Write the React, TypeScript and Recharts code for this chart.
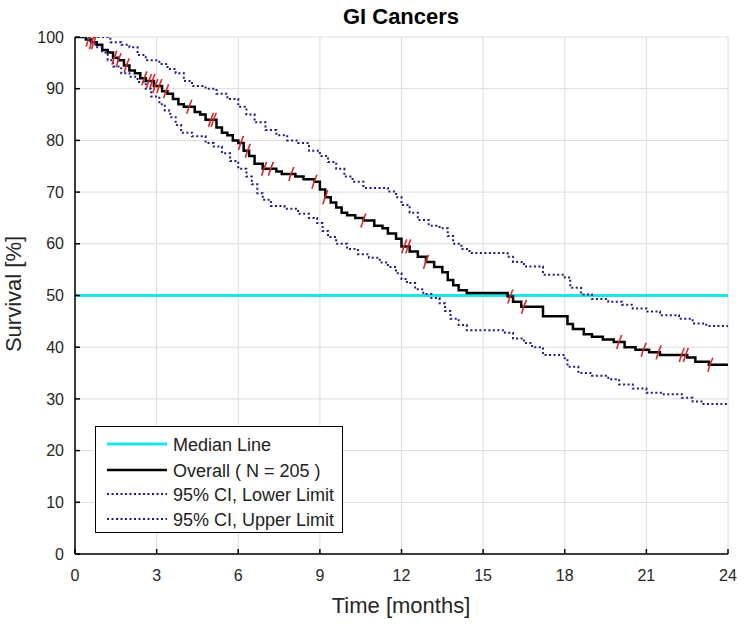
import React from 'react';
import {
  ComposedChart, Line, Scatter, XAxis, YAxis, CartesianGrid, Legend, Label,
} from 'recharts';

// ---------- data ----------
const xTicks = [0, 3, 6, 9, 12, 15, 18, 21, 24];
const yTicks = [0, 10, 20, 30, 40, 50, 60, 70, 80, 90, 100];

const seriesNames = ['Median Line', 'Overall ( N = 205 )', '95% CI, Lower Limit', '95% CI, Upper Limit'];

const medianTime = [0, 24];
const medianSurv = [50, 50];

const overallTime = [0, 0.4, 0.6, 0.8, 1.0, 1.2, 1.4, 1.6, 1.8, 2.0, 2.2, 2.4, 2.6, 2.9, 3.2, 3.4, 3.6, 3.8, 4.0, 4.4, 4.6, 4.8, 5.2, 5.4, 5.6, 5.8, 6.0, 6.2, 6.4, 6.6, 6.9, 7.4, 7.6, 8.1, 8.4, 8.8, 9.0, 9.2, 9.4, 9.6, 9.8, 10.0, 10.3, 10.6, 11.0, 11.3, 11.5, 11.8, 12.0, 12.3, 12.6, 12.9, 13.2, 13.5, 13.7, 13.9, 14.1, 14.4, 15.9, 16.1, 16.4, 17.2, 18.1, 18.3, 18.7, 19.0, 19.4, 19.8, 20.2, 20.6, 21.1, 21.5, 22.5, 22.8, 23.3, 24];
const overallSurv = [100, 99.5, 99, 98.5, 97.5, 97, 96, 95.5, 94.5, 93.5, 93, 92, 91.5, 90.5, 89.5, 89, 88, 87, 86.5, 85.5, 85, 84, 82.5, 81.5, 81, 80, 79.5, 78, 77, 75.5, 74.5, 74, 73.5, 73, 72.5, 72, 70.5, 69, 68, 67, 66, 65.5, 65, 64.5, 63.5, 63, 62, 61, 59.5, 58.5, 57.5, 56.5, 55.5, 54.5, 53, 52, 51, 50.5, 49.8, 48.8, 47.8, 46, 44.5, 43.5, 42.5, 42, 41.5, 41, 40, 39.5, 39, 38.5, 38, 37.2, 36.6, 36.6];

const lowerTime = [0, 0.45, 0.55, 0.75, 1.0, 1.2, 1.4, 1.7, 2.0, 2.3, 2.6, 2.8, 3.1, 3.3, 3.5, 3.7, 3.9, 4.3, 4.8, 5.1, 5.4, 5.7, 6.0, 6.3, 6.5, 6.7, 6.9, 7.2, 7.7, 8.2, 8.6, 8.9, 9.1, 9.3, 9.6, 10.0, 10.4, 10.8, 11.2, 11.5, 11.8, 12.0, 12.2, 12.5, 12.8, 13.1, 13.4, 13.6, 13.8, 14.1, 14.4, 15.8, 16.1, 16.5, 16.8, 17.2, 18.0, 18.1, 18.5, 19.0, 19.6, 20.0, 20.5, 21.0, 21.6, 22.3, 22.7, 23.1, 24];
const lowerSurv = [100, 100, 99, 98, 97, 95.5, 94.3, 93, 92.3, 91.3, 90, 88.5, 87, 85.8, 84.5, 83, 81.5, 80.8, 79.5, 78.8, 77.5, 76, 74.5, 73, 71.5, 69.8, 68.5, 67.3, 66.8, 65.8, 65, 64, 62.5, 61.3, 60, 59, 58, 57.3, 56.4, 55.5, 54.3, 53.2, 52.4, 51.2, 50.3, 49.5, 48.5, 47, 45.5, 44.3, 43.3, 42.8, 41.7, 40.8, 40, 38.5, 37.5, 36.2, 35, 34.5, 33.8, 32.8, 32, 31.2, 30.9, 30.2, 29.5, 29, 29];

const upperTime = [0, 1.0, 1.3, 1.7, 2.0, 2.3, 2.6, 3.1, 3.4, 3.7, 4.0, 4.3, 4.8, 5.2, 5.6, 6.0, 6.3, 6.6, 7.0, 7.4, 7.8, 8.2, 8.6, 9.0, 9.3, 9.6, 9.9, 10.2, 10.6, 11.5, 11.8, 12.0, 12.3, 12.6, 13.0, 13.4, 13.7, 13.9, 14.2, 14.5, 15.9, 16.1, 16.5, 17.2, 18.0, 18.2, 18.6, 19.0, 19.6, 20.1, 20.5, 21.0, 21.5, 22.2, 22.7, 23.2, 24];
const upperSurv = [100, 100, 99, 98.5, 98, 96.5, 95.5, 94.8, 93.8, 93, 91.5, 90.5, 90, 89, 88, 86.5, 85, 83.5, 82, 81, 80, 79.5, 78, 77, 75.8, 74.5, 73, 72, 70.8, 70.1, 69, 67.5, 66, 64.6, 63.5, 63, 61.5, 60, 59, 58.2, 57.5, 56.5, 55.6, 54, 53.5, 51.5, 50.2, 49.3, 48.8, 48.2, 47.5, 46.9, 46.2, 45.5, 44.6, 44.1, 44.1];

const censorTimes = [0.5, 0.62, 0.7, 1.45, 1.6, 1.9, 2.55, 2.72, 2.85, 2.95, 3.1, 3.35, 4.2, 5.0, 5.1, 6.1, 6.35, 6.95, 7.2, 7.95, 8.8, 9.2, 10.6, 12.1, 12.25, 12.9, 16.0, 16.5, 20.0, 20.9, 21.45, 22.3, 22.45, 23.35];

// ---------- derived tables ----------
const toRows = (ts: number[], ss: number[]) => ts.map((t, i) => ({ t, s: ss[i] }));
const medianData = toRows(medianTime, medianSurv);
const overallData = toRows(overallTime, overallSurv);
const lowerData = toRows(lowerTime, lowerSurv);
const upperData = toRows(upperTime, upperSurv);
const survAt = (t: number) => {
  let v = overallSurv[0];
  for (let i = 0; i < overallTime.length; i++) if (overallTime[i] <= t) v = overallSurv[i];
  return v;
};
const censorData = censorTimes.map((t) => ({ t, s: survAt(t) }));

// ---------- styles ----------
const FONT = '"Liberation Sans", Arial, Helvetica, sans-serif';
const CYAN = '#1fe3ea';
const NAVY = '#1c1c84';
const RED = '#d62a2a';

const CensorMark = (props: any) => {
  const { cx, cy } = props;
  if (cx == null || cy == null) return null;
  return (
    <path d={`M${cx - 2.5},${cy + 7} Q${cx - 0.5},${cy} ${cx + 2.5},${cy - 7}`} stroke={RED} strokeWidth={1.6} fill="none" />
  );
};

const LegendBox = () => {
  const rows = [
    { name: seriesNames[0], color: CYAN, dash: undefined, w: 3 },
    { name: seriesNames[1], color: '#000', dash: undefined, w: 2.5 },
    { name: seriesNames[2], color: NAVY, dash: '2 2.5', w: 2 },
    { name: seriesNames[3], color: NAVY, dash: '2 2.5', w: 2 },
  ];
  const ys = [18, 44, 68, 93];
  return (
    <svg width={249} height={108} style={{ display: 'block' }}>
      <rect x={0.5} y={0.5} width={247} height={106} fill="#fff" stroke="#000" strokeWidth={1} />
      {rows.map((r, i) => (
        <g key={r.name}>
          <line x1={12} x2={72} y1={ys[i]} y2={ys[i]} stroke={r.color} strokeWidth={r.w} strokeDasharray={r.dash} />
          <text x={78} y={ys[i] + 6.5} fontSize={18} fontFamily={FONT} fill="#222">{r.name}</text>
        </g>
      ))}
    </svg>
  );
};

export default function App() {
  return (
    <div style={{ position: 'absolute', left: 0, top: 0, width: 750, height: 624, background: '#fff' }}>
      <ComposedChart width={750} height={624} margin={{ top: 37, right: 22, bottom: 40, left: 35 }}>
        <CartesianGrid stroke="#dcdcdc" strokeWidth={1} horizontalValues={yTicks} verticalValues={xTicks} />
        <XAxis
          type="number"
          dataKey="t"
          domain={[0, 24]}
          ticks={xTicks}
          allowDataOverflow
          height={30}
          axisLine={{ stroke: '#000', strokeWidth: 1.5 }}
          tickLine={{ stroke: '#000', strokeWidth: 1.5 }}
          tickSize={-5}
          tickMargin={21}
          tick={{ fontSize: 16, fill: '#262626', fontFamily: FONT }}
        >
          <Label
            content={() => (
              <g>
                <text x={401} y={613} textAnchor="middle" fontSize={22} fontFamily={FONT} fill="#262626">Time [months]</text>
                <text x={401} y={24} textAnchor="middle" fontSize={22} fontWeight="bold" fontFamily={FONT} fill="#000">GI Cancers</text>
              </g>
            )}
          />
        </XAxis>
        <YAxis
          type="number"
          domain={[0, 100]}
          ticks={yTicks}
          allowDataOverflow
          width={40}
          axisLine={{ stroke: '#000', strokeWidth: 1.5 }}
          tickLine={{ stroke: '#000', strokeWidth: 1.5 }}
          tickSize={-5}
          tickMargin={16}
          tick={{ fontSize: 16, fill: '#262626', fontFamily: FONT }}
        >
          <Label
            content={() => (
              <text transform="translate(21,294) rotate(-90)" textAnchor="middle" fontSize={22} fontFamily={FONT} fill="#262626">Survival [%]</text>
            )}
          />
        </YAxis>
        <Legend
          layout="vertical"
          align="center"
          verticalAlign="middle"
          wrapperStyle={{ left: 95, top: 426, width: 249, height: 108 }}
          content={() => <LegendBox />}
        />
        <Line data={medianData} dataKey="s" name={seriesNames[0]} type="linear" stroke={CYAN} strokeWidth={3} dot={false} isAnimationActive={false} />
        <Line data={overallData} dataKey="s" name={seriesNames[1]} type="stepAfter" stroke="#000" strokeWidth={2.5} dot={false} isAnimationActive={false} />
        <Line data={lowerData} dataKey="s" name={seriesNames[2]} type="stepAfter" stroke={NAVY} strokeWidth={2} strokeDasharray="2 2.5" dot={false} isAnimationActive={false} />
        <Line data={upperData} dataKey="s" name={seriesNames[3]} type="stepAfter" stroke={NAVY} strokeWidth={2} strokeDasharray="2 2.5" dot={false} isAnimationActive={false} />
        <Scatter data={censorData} dataKey="s" shape={CensorMark} isAnimationActive={false} legendType="none" />
      </ComposedChart>
    </div>
  );
}
